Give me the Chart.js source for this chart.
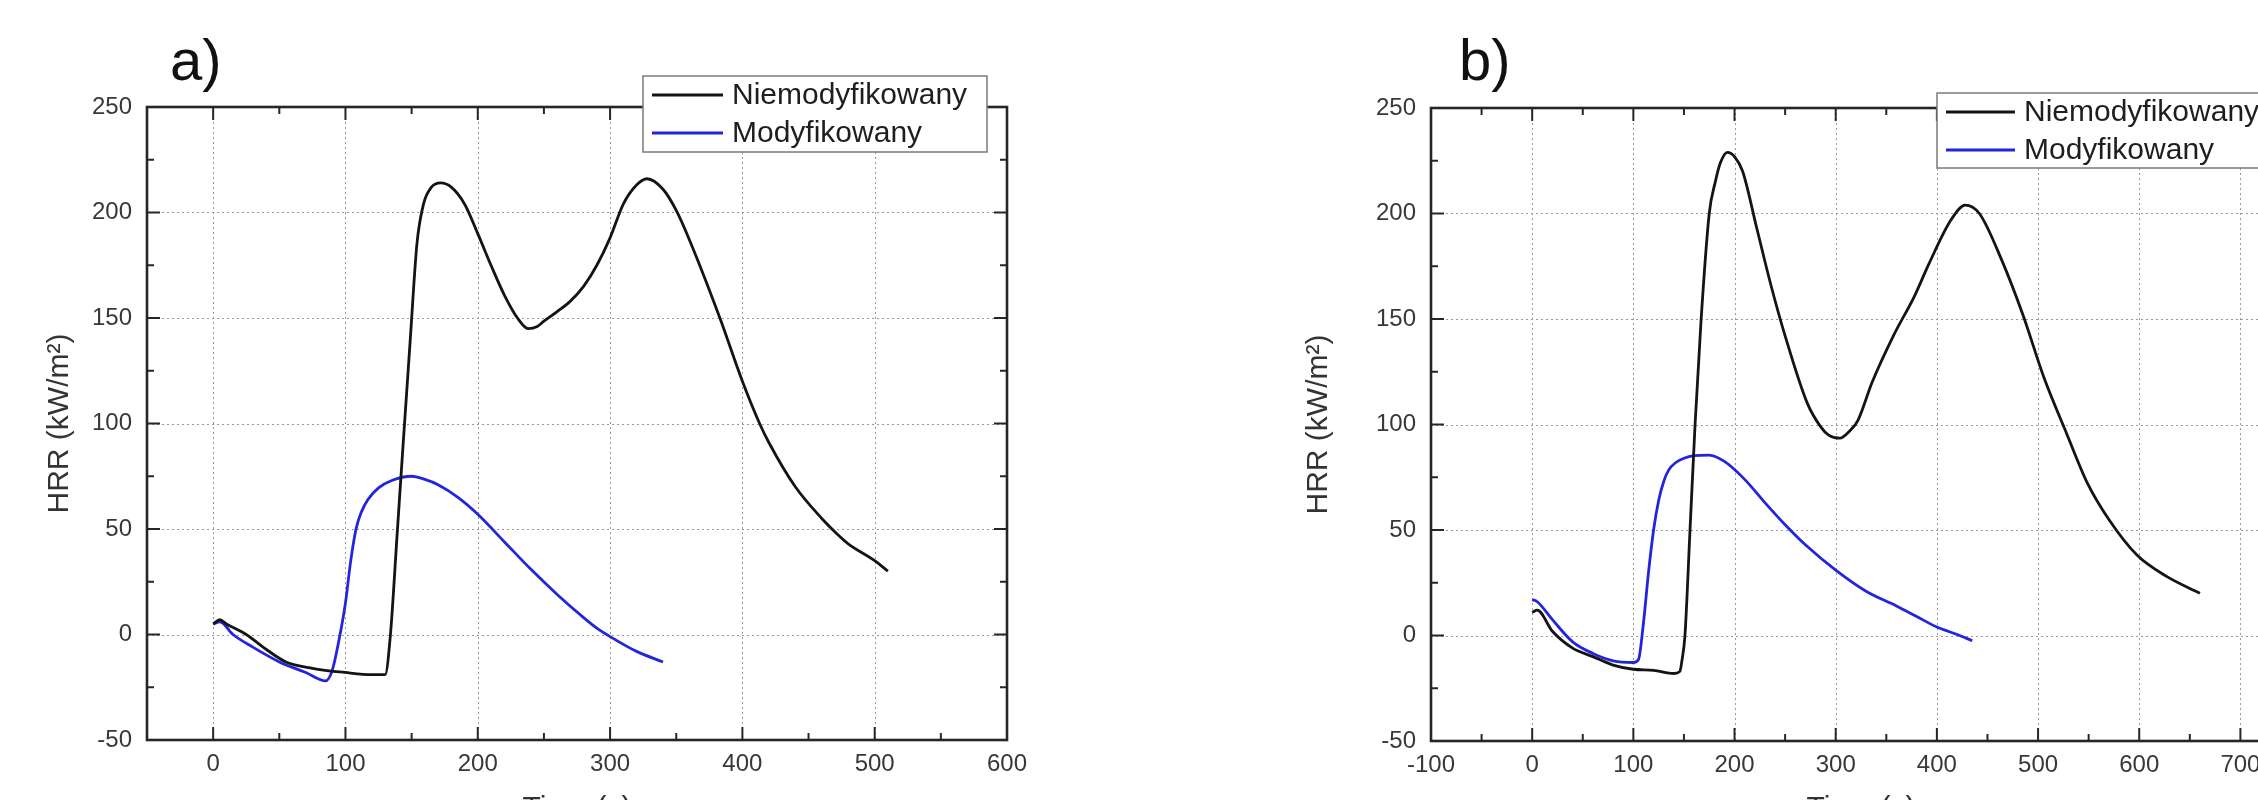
<!DOCTYPE html>
<html>
<head>
<meta charset="utf-8">
<script src="https://cdn.jsdelivr.net/npm/chart.js@4.4.1/dist/chart.umd.min.js"></script>
<style>
  html, body { margin: 0; padding: 0; background: #fff; width: 2258px; height: 800px; overflow: hidden; }
  canvas { position: absolute; top: 0; }
</style>
</head>
<body>
<canvas id="chartA" width="1129" height="830" style="left:0"></canvas>
<canvas id="chartB" width="1240" height="830" style="left:1129px"></canvas>
<script>
// series names
const seriesLabels = ['Niemodyfikowany', 'Modyfikowany'];
const seriesColors = ['#141414', '#2424dc'];

// panel a) - unmodified
const timeA_N = [0, 5, 10, 25, 40, 55, 75, 100, 120, 130, 134, 139, 144, 149, 154, 159, 165, 172, 180, 190, 200, 210, 220, 230, 238, 245, 250, 260, 270, 280, 290, 300, 310, 320, 328, 340, 350, 360, 383, 400, 413, 420, 440, 460, 471, 480, 500, 510];
const hrrA_N  = [5, 7, 5, 0, -7, -13, -16, -18, -19, -19, 0, 47, 94, 140, 185, 204, 212, 214, 212, 204, 190, 175, 161, 150, 145, 146, 148.5, 153, 158, 165, 175, 188, 204, 213, 216, 211, 201, 187, 150, 120, 100, 91, 70, 55, 48, 43, 35, 30];
// panel a) - modified
const timeA_M = [0, 5, 15, 30, 50, 70, 85, 90, 95, 100, 104, 108, 112, 117, 125, 135, 150, 160, 170, 185, 200, 220, 240, 260, 280, 290, 300, 320, 340];
const hrrA_M  = [5, 6, 0, -6, -13, -18, -22, -17, -3, 15, 35, 50, 58, 64, 69.5, 73, 75, 73.5, 71, 65, 57, 44, 31, 19, 8, 3, -1, -8, -13];

// panel b) - unmodified
const timeB_N = [0, 5, 20, 40, 60, 80, 100, 120, 140, 146, 148, 151, 156, 161, 167, 175, 181, 186, 193, 200, 208, 222, 236, 250, 272, 285, 293, 304, 314, 322, 336, 357, 378, 392, 414, 428, 442, 464, 485, 506, 528, 549, 570, 598, 627, 660];
const hrrB_N  = [11, 12, 2, -6, -10, -14, -16, -16.5, -18, -17, -12, 0, 50, 100, 150, 200, 215, 224, 229, 227, 220, 193, 166, 142, 110, 99, 95, 93.5, 97, 102, 120, 142, 161, 176, 197, 204, 200, 178, 152, 122, 96, 72, 55, 38, 28, 20];
// panel b) - modified
const timeB_M = [0, 5, 20, 40, 60, 80, 100, 105, 110, 115, 120, 125, 130, 135, 142, 150, 160, 175, 190, 210, 230, 250, 270, 300, 330, 360, 380, 400, 420, 435];
const hrrB_M  = [17, 16, 7.5, -3, -8.5, -12, -12.8, -11.5, 6, 30, 50, 64, 73, 78.5, 82, 84, 85.2, 85.5, 82.5, 74, 63, 52.5, 43, 31, 21, 14, 9, 4, 0.5, -2.5];

// tick labels
const yTicks = [-50, 0, 50, 100, 150, 200, 250];
const xTicksA = [0, 100, 200, 300, 400, 500, 600];
const xTicksB = [-100, 0, 100, 200, 300, 400, 500, 600, 700];

const yTitle = 'HRR (kW/m²)';
const xTitle = 'Time (s)';
const fontFam = '"Liberation Sans", Arial, sans-serif';

Chart.defaults.font.family = fontFam;

const toPoints = (xs, ys) => xs.map((x, i) => ({x: x, y: ys[i]}));

// origin-like frame: dotted grid, inward ticks, boxed legend, panel letter
const panelPlugin = {
  id: 'panel',
  beforeDatasetsDraw(chart, args, opts) {
    const {ctx, chartArea: a, scales: {x, y}} = chart;
    ctx.save();
    ctx.strokeStyle = '#9a9a9a';
    ctx.lineWidth = 1;
    ctx.setLineDash([2, 3]);
    x.ticks.forEach(t => {
      const px = Math.round(x.getPixelForValue(t.value)) + 0.5;
      if (px <= a.left + 2 || px >= a.right - 2) return;
      ctx.beginPath(); ctx.moveTo(px, a.top); ctx.lineTo(px, a.bottom); ctx.stroke();
    });
    y.ticks.forEach(t => {
      const py = Math.round(y.getPixelForValue(t.value)) + 0.5;
      if (py <= a.top + 2 || py >= a.bottom - 2) return;
      ctx.beginPath(); ctx.moveTo(a.left, py); ctx.lineTo(a.right, py); ctx.stroke();
    });
    ctx.restore();
  },
  afterDatasetsDraw(chart, args, opts) {
    const {ctx, chartArea: a, scales: {x, y}} = chart;
    ctx.save();
    ctx.strokeStyle = '#262626';
    ctx.lineWidth = 2;
    const major = 13, minor = 7;
    const xMajor = x.ticks.map(t => t.value);
    for (let v = Math.ceil(x.min / 50) * 50; v <= x.max; v += 50) {
      const px = x.getPixelForValue(v);
      const len = xMajor.includes(v) ? major : minor;
      ctx.beginPath(); ctx.moveTo(px, a.bottom); ctx.lineTo(px, a.bottom - len); ctx.stroke();
      ctx.beginPath(); ctx.moveTo(px, a.top); ctx.lineTo(px, a.top + len); ctx.stroke();
    }
    for (let v = y.min; v <= y.max; v += 25) {
      const py = y.getPixelForValue(v);
      const len = v % 50 === 0 ? major : minor;
      ctx.beginPath(); ctx.moveTo(a.left, py); ctx.lineTo(a.left + len, py); ctx.stroke();
      ctx.beginPath(); ctx.moveTo(a.right, py); ctx.lineTo(a.right - len, py); ctx.stroke();
    }
    ctx.lineWidth = 2.6;
    ctx.strokeRect(a.left, a.top, a.right - a.left, a.bottom - a.top);
    ctx.restore();
  },
  afterDraw(chart, args, opts) {
    const {ctx} = chart;
    const lg = opts.legend;
    ctx.save();
    ctx.fillStyle = '#fff';
    ctx.fillRect(lg.x, lg.y, lg.w, lg.h);
    ctx.strokeStyle = '#7a7a7a';
    ctx.lineWidth = 1.5;
    ctx.strokeRect(lg.x, lg.y, lg.w, lg.h);
    chart.data.datasets.forEach((ds, i) => {
      const ry = lg.rows[i];
      ctx.strokeStyle = ds.borderColor;
      ctx.lineWidth = 3;
      ctx.beginPath(); ctx.moveTo(lg.sx0, ry); ctx.lineTo(lg.sx1, ry); ctx.stroke();
      ctx.fillStyle = '#1e1e1e';
      ctx.font = '30px ' + fontFam;
      ctx.textBaseline = 'middle';
      ctx.fillText(ds.label, lg.tx, ry + 1);
    });
    ctx.fillStyle = '#111';
    ctx.font = '58px ' + fontFam;
    ctx.textBaseline = 'alphabetic';
    ctx.fillText(opts.letter, opts.letterX, 80);
    ctx.restore();
  }
};

function makeChart(id, sets, xMin, xMax, xTicks, yWidth, xHeight, pad, yTitlePad, panelOpts) {
  return new Chart(document.getElementById(id), {
    type: 'line',
    data: {
      datasets: sets.map((s, i) => ({
        label: seriesLabels[i],
        data: toPoints(s[0], s[1]),
        borderColor: seriesColors[i],
        borderWidth: 2.8,
        pointRadius: 0,
        cubicInterpolationMode: 'monotone',
        fill: false
      }))
    },
    options: {
      responsive: false,
      animation: false,
      devicePixelRatio: 1,
      layout: {padding: pad},
      plugins: {
        legend: {display: false},
        tooltip: {enabled: false},
        panel: panelOpts
      },
      scales: {
        x: {
          type: 'linear',
          min: xMin, max: xMax,
          afterBuildTicks: s => { s.ticks = xTicks.map(v => ({value: v})); },
          afterFit: s => { s.height = xHeight; },
          grid: {display: false, drawTicks: false},
          border: {display: false},
          ticks: {padding: 10, color: '#383838', font: {size: 24}, maxRotation: 0, autoSkip: false},
          title: {display: true, text: xTitle, color: '#333', font: {size: 30}, padding: {top: 0, bottom: 3}}
        },
        y: {
          type: 'linear',
          min: -50, max: 250,
          afterBuildTicks: s => { s.ticks = yTicks.map(v => ({value: v})); },
          afterFit: s => { s.width = yWidth; },
          grid: {display: false, drawTicks: false},
          border: {display: false},
          ticks: {padding: 15, color: '#383838', font: {size: 24}, autoSkip: false},
          title: {display: true, text: yTitle, color: '#333', font: {size: 30}, padding: {top: yTitlePad, bottom: 0}}
        }
      }
    },
    plugins: [panelPlugin]
  });
}

makeChart('chartA', [[timeA_N, hrrA_N], [timeA_M, hrrA_M]], -50, 600, xTicksA, 147, 90,
  {left: 0, top: 107, right: 122, bottom: 0}, 41.5,
  {letter: 'a)', letterX: 170,
   legend: {x: 643, y: 76, w: 344, h: 76, rows: [95, 133], sx0: 652, sx1: 723, tx: 732}});

makeChart('chartB', [[timeB_N, hrrB_N], [timeB_M, hrrB_M]], -100, 750, xTicksB, 302, 89,
  {left: 0, top: 108, right: 78, bottom: 0}, 171.5,
  {letter: 'b)', letterX: 330,
   legend: {x: 808, y: 93, w: 334, h: 75, rows: [112, 150], sx0: 817, sx1: 886, tx: 895}});
</script>
</body>
</html>
